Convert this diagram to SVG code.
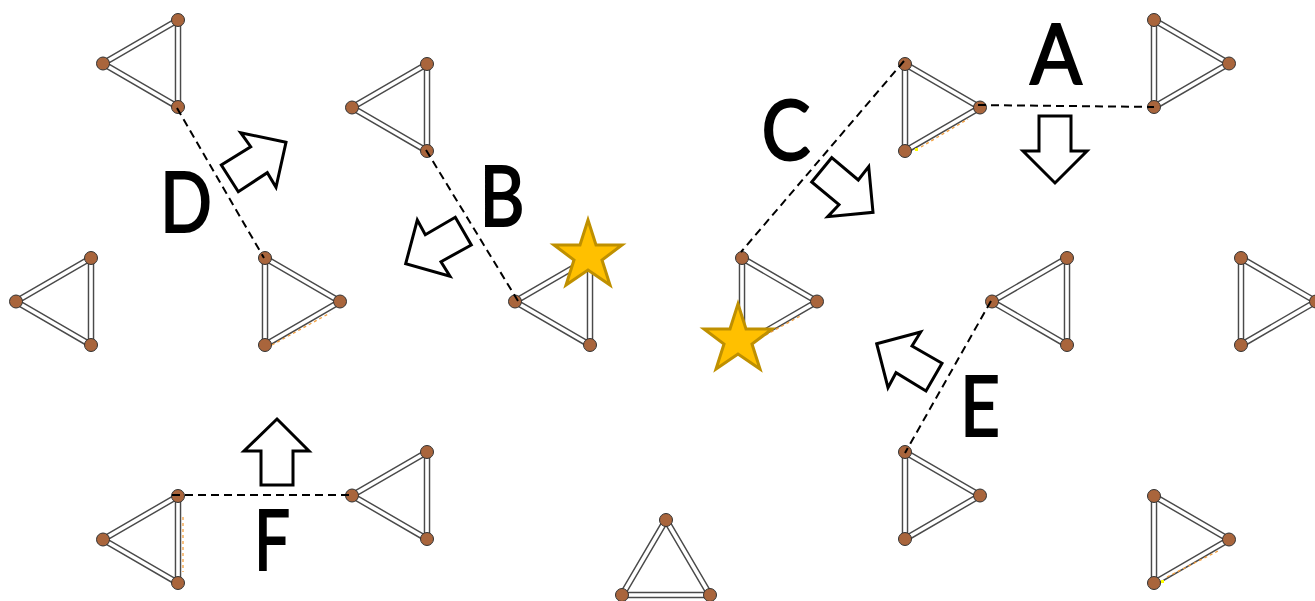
<svg xmlns="http://www.w3.org/2000/svg" width="1315" height="601" viewBox="0 0 1315 601">
<style>
.eo{fill:none;stroke:#4a4a4a;stroke-width:6.500}
.ei{fill:none;stroke:#fff;stroke-width:3.600}
.n{fill:#a9653c;stroke:#333;stroke-width:1}
.dash{fill:none;stroke:#000;stroke-width:2;stroke-dasharray:8 5}
.arrow{fill:#fff;stroke:#000;stroke-width:3;stroke-miterlimit:10}
.star{fill:#ffc000;stroke:#bf9000;stroke-width:3}
.dot{fill:none;stroke:#f4a040;stroke-width:1.300;stroke-dasharray:3 3}
.yel{fill:#ffff00}
.lbl{font-family:Lato,"Open Sans","Liberation Sans",sans-serif;font-size:83px;fill:#000;stroke:#000;stroke-width:2;text-anchor:middle}
</style>
<defs>
<g id="tr"><path class="eo" d="M0 0L75 43.500L0 87Z"/><path class="ei" d="M0 0L75 43.500L0 87Z"/><circle class="n" cx="0" cy="0" r="6.500"/><circle class="n" cx="75" cy="43.500" r="6.500"/><circle class="n" cx="0" cy="87" r="6.500"/></g>
<g id="tl"><path class="eo" d="M0 0L-75 43.500L0 87Z"/><path class="ei" d="M0 0L-75 43.500L0 87Z"/><circle class="n" cx="0" cy="0" r="6.500"/><circle class="n" cx="-75" cy="43.500" r="6.500"/><circle class="n" cx="0" cy="87" r="6.500"/></g>
<polygon id="st" class="star" points="588,220 596,245 622,245 602,260 610,285 588,270 566,285 574,260 554,245 580,245"/>
</defs>
<g id="t1"><use href="#tl" x="178" y="20"/></g>
<g id="t2"><use href="#tl" x="427" y="64"/></g>
<g id="t3"><use href="#tr" x="905" y="64"/><rect class="yel" x="915" y="148" width="3" height="3"/><path class="dot" d="M921 147L968 119"/></g>
<g id="t4"><use href="#tr" x="1154" y="20"/></g>
<g id="t5"><use href="#tl" x="91" y="258"/></g>
<g id="t6"><use href="#tr" x="265" y="258"/><path class="dot" d="M272 345L330 313"/></g>
<g id="t7"><use href="#tl" x="590" y="258"/></g>
<g id="t8"><use href="#tr" x="742" y="258"/><path class="dot" d="M755 341L802 315"/></g>
<g id="t9"><use href="#tl" x="1067" y="258"/></g>
<g id="t10"><use href="#tr" x="1241" y="258"/></g>
<g id="t11"><use href="#tl" x="178" y="496"/><path class="dot" d="M183 517L183 572"/></g>
<g id="t12"><use href="#tl" x="427" y="452"/></g>
<g id="t13"><use href="#tr" x="905" y="452"/></g>
<g id="t14"><use href="#tr" x="1154" y="496"/><rect class="yel" x="1161" y="580" width="3" height="3"/><path class="dot" d="M1167 577L1220 550"/></g>
<g id="t15"><path class="eo" d="M666 520L710 595L622 595Z"/><path class="ei" d="M666 520L710 595L622 595Z"/><circle class="n" cx="666" cy="520" r="6.500"/><circle class="n" cx="710" cy="595" r="6.500"/><circle class="n" cx="622" cy="595" r="6.500"/></g>
<g id="connectors">
<path class="dash" d="M978 105L1154 107"/>
<path class="dash" d="M426 150L518 301"/>
<path class="dash" d="M904 61L741 252"/>
<path class="dash" d="M177 108L264 258"/>
<path class="dash" d="M991 301L905 453"/>
<path class="dash" d="M172 495L352 495"/>
</g>
<g id="arrows">
<polygon class="arrow" points="1039,116 1071,116 1071,151 1087,151 1055,183 1023,151 1039,151"/>
<polygon class="arrow" points="277,419 309,451 293,451 293,485 261,485 261,451 244,451"/>
<polygon class="arrow" points="286,142.300 240.700,132.700 250.700,146.700 221.300,165 238.300,191.700 267.300,172.700 276,187.300"/>
<polygon class="arrow" points="405.700,263.700 417.300,220 425.300,234.700 455.300,217.300 471.300,245 441,261.700 450,276.300"/>
<polygon class="arrow" points="873,212.300 868.700,166.700 858.300,180 831.700,157.700 811.700,182 839,204.700 827.700,216.700"/>
<polygon class="arrow" points="876.700,343.700 920.700,332 912,346 942,363.300 926,391 896,372.700 888,387.700"/>
</g>
<g id="stars"><use href="#st"/><use href="#st" x="150" y="84"/></g>
<g id="labels">
<text class="lbl" x="1056" y="84" textLength="52" lengthAdjust="spacingAndGlyphs">A</text>
<text class="lbl" x="502" y="226" textLength="45" lengthAdjust="spacingAndGlyphs">B</text>
<text class="lbl" x="786" y="160" textLength="49" lengthAdjust="spacingAndGlyphs">C</text>
<text class="lbl" x="186" y="232" textLength="52" lengthAdjust="spacingAndGlyphs">D</text>
<text class="lbl" x="980" y="436" textLength="40" lengthAdjust="spacingAndGlyphs">E</text>
<text class="lbl" x="272" y="570" textLength="36" lengthAdjust="spacingAndGlyphs">F</text>
</g>
</svg>
